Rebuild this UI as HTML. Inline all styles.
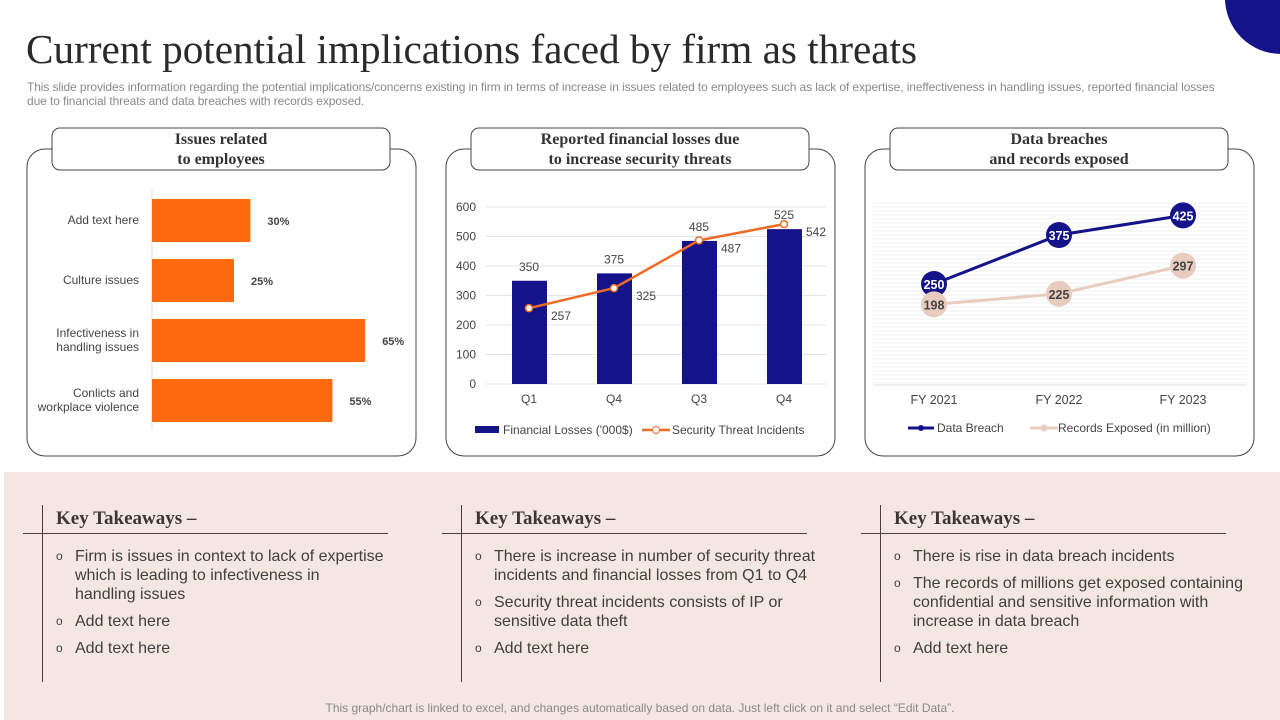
<!DOCTYPE html>
<html><head><meta charset="utf-8"><style>
body{margin:0;width:1280px;height:720px;overflow:hidden;background:#fff;font-family:"Liberation Sans",sans-serif;position:relative}
.abs{position:absolute}
.kt{position:absolute;font-family:"Liberation Serif",serif;font-weight:bold;font-size:19px;color:#3f3633}
.bl{position:absolute;font-size:16px;color:#3f3f3f;line-height:19px;white-space:nowrap}
.bl .o{position:absolute;left:-19px;font-size:12px}
</style></head><body>
<div class="abs" style="left:1225px;top:-58px;width:112px;height:112px;border-radius:50%;background:#15138a"></div>
<div class="abs" style="left:26px;top:25px;font-family:'Liberation Serif',serif;font-size:41.2px;color:#2a2a2a;white-space:nowrap">Current potential implications faced by firm as threats</div>
<div class="abs" style="left:27px;top:80px;font-size:12px;line-height:14px;color:#8a8a8a;white-space:nowrap;letter-spacing:-0.1px">This slide provides information regarding the potential implications/concerns existing in firm in terms of increase in issues related to employees such as lack of expertise, ineffectiveness in handling issues, reported financial losses<br>due to financial threats and data breaches with records exposed.</div>
<div class="abs" style="left:4px;top:472px;width:1276px;height:248px;background:#f4e7e1"></div>
<div class="abs" style="left:0;width:1280px;top:701px;text-align:center;font-size:12px;color:#8a8a8a">This graph/chart is linked to excel, and changes automatically based on data. Just left click on it and select “Edit Data”.</div>
<svg class="abs" style="left:0;top:0" width="1280" height="720" id="charts"></svg>
<div id="tk"></div>
<script>
const barCats=["Add text here","Culture issues","Infectiveness in|handling issues","Conlicts and|workplace violence"];
const barVals=[30,25,65,55];
const finCats=["Q1","Q4","Q3","Q4"];
const finLoss=[350,375,485,525];
const finThreat=[257,325,487,542];
const finTicks=[0,100,200,300,400,500,600];
const fyCats=["FY 2021","FY 2022","FY 2023"];
const breach=[250,375,425];
const records=[198,225,297];
const svg=document.getElementById('charts');
const NS="http://www.w3.org/2000/svg";
function mk(t,a,txt,name){const e=document.createElementNS(NS,t);for(const k in a)e.setAttribute(k,a[k]);if(txt!==undefined)e.textContent=txt;


svg.appendChild(e);return e;}
function panel(x,titles,name){
 mk('rect',{x:x,y:149,width:389,height:307,rx:18,fill:'#fff',stroke:'#444','stroke-width':1},undefined,name+'-frame');
 mk('rect',{x:x+25,y:128,width:338,height:42,rx:8,fill:'#fff',stroke:'#444','stroke-width':1},undefined,name+'-title-tab');
 titles.forEach((t,i)=>mk('text',{x:x+194,y:144+i*20,'text-anchor':'middle','font-family':'Liberation Serif,serif','font-weight':'bold','font-size':16,fill:'#333'},t,name+'-title'));
}
panel(27,["Issues related","to employees"],'employees-panel');
panel(446,["Reported financial losses due","to increase security threats"],'losses-panel');
panel(865,["Data breaches","and records exposed"],'breaches-panel');
const bx0=152,bsc=3.28;
mk('line',{x1:bx0,y1:190,x2:bx0,y2:430,stroke:'#ddd'},undefined,'y-axis');
barCats.forEach((c,i)=>{const y=199+i*60;const w=barVals[i]*bsc;
 mk('rect',{x:bx0,y:y,width:w,height:43,fill:'#ff6a0e'},undefined,'bar-'+i);
 mk('text',{x:bx0+w+17,y:y+26,'font-size':11,'font-weight':'bold',fill:'#444'},barVals[i]+'%','bar-label');
 const ls=c.split('|');ls.forEach((l,j)=>mk('text',{x:139,y:y+25-(ls.length-1)*7+j*14,'text-anchor':'end','font-size':12,fill:'#444'},l,'category-label'));
});
const y0=384,ys=177/600,xs=[529,614,699,784];
const fy=v=>y0-v*ys;
finTicks.forEach(t=>{mk('line',{x1:486,x2:826,y1:fy(t),y2:fy(t),stroke:'#e5e5e5'},undefined,'gridline');
 mk('text',{x:476,y:fy(t)+4,'text-anchor':'end','font-size':12,fill:'#444'},t,'y-tick');});
finCats.forEach((c,i)=>{const x=xs[i];
 mk('rect',{x:x-17,y:fy(finLoss[i]),width:35,height:finLoss[i]*ys,fill:'#15138a'},undefined,'loss-bar');
 mk('text',{x:x,y:403,'text-anchor':'middle','font-size':12,fill:'#444'},c,'x-tick');
 mk('text',{x:x,y:fy(finLoss[i])-10,'text-anchor':'middle','font-size':12,fill:'#444'},finLoss[i],'loss-label');
 mk('text',{x:x+22,y:fy(finThreat[i])+12,'text-anchor':'start','font-size':12,fill:'#444'},finThreat[i],'threat-label');
});
mk('polyline',{points:finThreat.map((v,i)=>xs[i]+','+fy(v)).join(' '),fill:'none',stroke:'#ed6b25','stroke-width':2.5},undefined,'threat-line');
finThreat.forEach((v,i)=>mk('circle',{cx:xs[i],cy:fy(v),r:3.5,fill:'#fff',stroke:'#ed6b25','stroke-width':1.5},undefined,'threat-point'));
mk('rect',{x:475,y:426,width:24,height:7,fill:'#15138a'},undefined,'legend-loss-swatch');
mk('text',{x:503,y:434,'font-size':12,fill:'#444'},"Financial Losses  ('000$)",'legend-loss');
mk('line',{x1:642,x2:670,y1:430,y2:430,stroke:'#ed6b25','stroke-width':2.5},undefined,'legend-threat-swatch');
mk('circle',{cx:656,cy:430,r:3.5,fill:'#fff',stroke:'#ed6b25'},undefined,'legend-threat-marker');
mk('text',{x:672,y:434,'font-size':12,fill:'#444'},'Security Threat Incidents','legend-threat');
for(let y=203;y<=385;y+=4)mk('line',{x1:873,x2:1247,y1:y,y2:y,stroke:'#f0f0f0'},undefined,'stripe');
mk('line',{x1:873,x2:1247,y1:385,y2:385,stroke:'#ddd'},undefined,'x-axis');
const lx=[934,1059,1183],ly=v=>382-v*0.392;
mk('polyline',{points:records.map((v,i)=>lx[i]+','+ly(v)).join(' '),fill:'none',stroke:'#e8cdbf','stroke-width':3},undefined,'records-line');
mk('polyline',{points:breach.map((v,i)=>lx[i]+','+ly(v)).join(' '),fill:'none',stroke:'#15138a','stroke-width':3},undefined,'breach-line');
fyCats.forEach((c,i)=>{
 mk('text',{x:lx[i],y:404,'text-anchor':'middle','font-size':12.5,fill:'#444'},c,'x-tick');
 mk('circle',{cx:lx[i],cy:ly(breach[i]),r:13,fill:'#15138a'},undefined,'breach-point');
 mk('text',{x:lx[i],y:ly(breach[i])+5,'text-anchor':'middle','font-size':12.5,'font-weight':'bold',fill:'#fff'},breach[i],'breach-label');
 mk('circle',{cx:lx[i],cy:ly(records[i]),r:13,fill:'#e8cdbf'},undefined,'records-point');
 mk('text',{x:lx[i],y:ly(records[i])+5,'text-anchor':'middle','font-size':12.5,'font-weight':'bold',fill:'#444'},records[i],'records-label');
});
mk('line',{x1:908,x2:934,y1:428,y2:428,stroke:'#15138a','stroke-width':3},undefined,'legend-breach-swatch');
mk('circle',{cx:921,cy:428,r:3,fill:'#15138a'},undefined,'legend-breach-marker');
mk('text',{x:937,y:432,'font-size':12,fill:'#444'},'Data Breach','legend-breach');
mk('line',{x1:1030,x2:1058,y1:428,y2:428,stroke:'#e8cdbf','stroke-width':3},undefined,'legend-records-swatch');
mk('circle',{cx:1044,cy:428,r:3.5,fill:'#e8cdbf'},undefined,'legend-records-marker');
mk('text',{x:1058,y:432,'font-size':12,fill:'#444'},'Records Exposed (in million)','legend-records');
const cols=[
 [["Firm is issues in context to lack of expertise<br>which is leading to infectiveness in<br>handling issues",556],["Add text here",621],["Add text here",648]],
 [["There is increase in number of security threat<br>incidents and financial losses from Q1 to Q4",556],["Security threat incidents consists of IP or<br>sensitive data theft",602],["Add text here",648]],
 [["There is rise in data breach incidents",556],["The records of millions get exposed containing<br>confidential and sensitive information with<br>increase in data breach",583],["Add text here",648]]];
let h='';
cols.forEach((c,i)=>{const o=i*419;
 h+=`<div class="abs" style="left:${42+o}px;top:505px;width:1px;height:177px;background:#4a3f3b"></div>`;
 h+=`<div class="abs" style="left:23px;margin-left:${o}px;top:533px;width:365px;height:1px;background:#4a3f3b"></div>`;
 h+=`<div class="kt" style="left:${56+o}px;top:508px">Key Takeaways –</div>`;
 c.forEach(b=>{h+=`<div class="bl" style="left:${75+o}px;top:${b[1]-9}px"><span class="o">o</span>${b[0]}</div>`;});
});
document.getElementById('tk').innerHTML=h;
</script>
</body></html>
